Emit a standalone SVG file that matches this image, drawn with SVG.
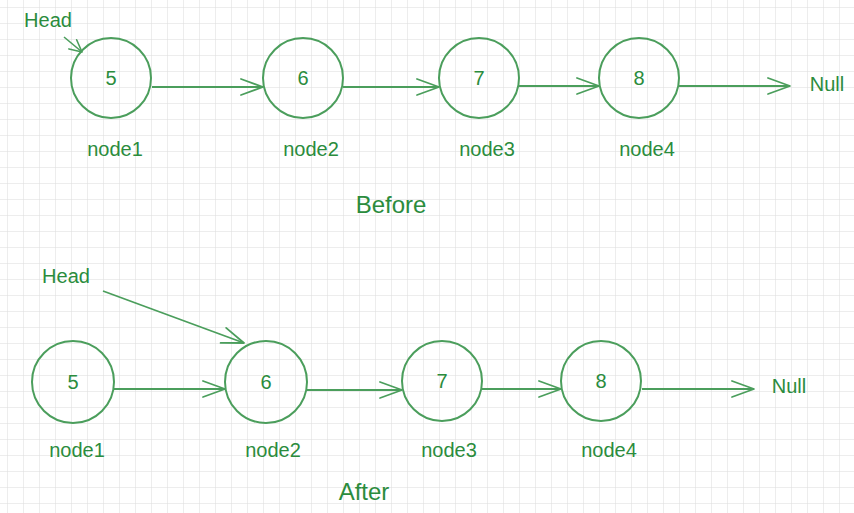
<svg xmlns="http://www.w3.org/2000/svg" width="854" height="513" viewBox="0 0 854 513">
<defs>
<pattern id="grid" x="7" y="7" width="16" height="16" patternUnits="userSpaceOnUse">
<path d="M0 0 H16 M0 0 V16" fill="none" stroke="#dcdcdc" stroke-width="1"/>
</pattern>
<marker id="arr" markerUnits="userSpaceOnUse" markerWidth="30" markerHeight="24" refX="0" refY="0" viewBox="-24 -12 30 24" orient="auto" overflow="visible">
<path d="M-22 -8 L0 0 L-22 8" fill="none" stroke="#4b9e5c" stroke-width="1.8" stroke-linecap="round" stroke-linejoin="round"/>
</marker>
<marker id="arrs" markerUnits="userSpaceOnUse" markerWidth="20" markerHeight="16" refX="0" refY="0" viewBox="-16 -8 20 16" orient="auto" overflow="visible">
<path d="M-12 -6 L0 0 L-12 6" fill="none" stroke="#4b9e5c" stroke-width="1.6" stroke-linecap="round" stroke-linejoin="round"/>
</marker>
</defs>
<style>
.c{fill:none;stroke:#4b9e5c;stroke-width:2}
.e{fill:none;stroke:#4b9e5c;stroke-width:1.8;marker-end:url(#arr)}
.t{font-family:"Liberation Sans",Arial,sans-serif;fill:#2b8c3d;font-size:20px;text-anchor:middle}
.h{font-size:24px}
</style>
<rect width="854" height="513" fill="#ffffff"/>
<rect width="854" height="513" fill="url(#grid)"/>

<g id="connectors">
<line class="e" x1="152" y1="87" x2="263" y2="87"/>
<line class="e" x1="343" y1="87" x2="439" y2="87"/>
<line class="e" x1="519" y1="86" x2="599" y2="86"/>
<line class="e" x1="679" y1="86" x2="790" y2="86"/>
<line x1="64" y1="37" x2="82" y2="52" fill="none" stroke="#4b9e5c" stroke-width="1.6" marker-end="url(#arrs)"/>
<line class="e" x1="114" y1="389" x2="225" y2="389"/>
<line class="e" x1="306" y1="390" x2="402" y2="390"/>
<line class="e" x1="482" y1="389" x2="561" y2="389"/>
<line class="e" x1="642" y1="389" x2="754" y2="389"/>
<line class="e" x1="103" y1="291" x2="244" y2="343"/>
</g>

<g id="before-head"><text class="t" x="48" y="27">Head</text></g>
<g id="before-node1">
<circle class="c" cx="111" cy="78" r="40"/>
<text class="t" x="111" y="85">5</text>
<text class="t" x="115" y="156">node1</text>
</g>
<g id="before-node2">
<circle class="c" cx="303" cy="78" r="40"/>
<text class="t" x="303" y="85">6</text>
<text class="t" x="311" y="156">node2</text>
</g>
<g id="before-node3">
<circle class="c" cx="479" cy="78" r="40"/>
<text class="t" x="479" y="85">7</text>
<text class="t" x="487" y="156">node3</text>
</g>
<g id="before-node4">
<circle class="c" cx="639" cy="78" r="40"/>
<text class="t" x="639" y="85">8</text>
<text class="t" x="647" y="156">node4</text>
</g>
<g id="before-null"><text class="t" x="827" y="91">Null</text></g>
<g id="before-title"><text class="t h" x="391" y="213">Before</text></g>

<g id="after-head"><text class="t" x="66" y="283">Head</text></g>
<g id="after-node1">
<circle class="c" cx="73" cy="382" r="41"/>
<text class="t" x="73" y="389">5</text>
<text class="t" x="77" y="457">node1</text>
</g>
<g id="after-node2">
<circle class="c" cx="266" cy="382" r="41"/>
<text class="t" x="266" y="389">6</text>
<text class="t" x="273" y="457">node2</text>
</g>
<g id="after-node3">
<circle class="c" cx="442" cy="381" r="40"/>
<text class="t" x="442" y="388">7</text>
<text class="t" x="449" y="457">node3</text>
</g>
<g id="after-node4">
<circle class="c" cx="601" cy="381" r="40"/>
<text class="t" x="601" y="388">8</text>
<text class="t" x="609" y="457">node4</text>
</g>
<g id="after-null"><text class="t" x="789" y="393">Null</text></g>
<g id="after-title"><text class="t h" x="364" y="500">After</text></g>
</svg>
